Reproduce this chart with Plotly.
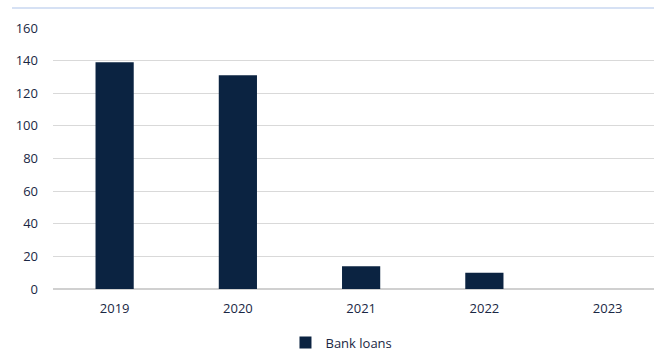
import plotly.graph_objects as go

years = ["2019", "2020", "2021", "2022", "2023"]
bank_loans = [139, 131, 14, 10, 0]
y_ticks = [0, 20, 40, 60, 80, 100, 120, 140, 160]

W, H = 654, 353
ml, mr, mt, mb = 53, 0, 28, 64
pw, ph = W - ml - mr, H - mt - mb

txt = "#1A2744"
fig = go.Figure()
fig.add_trace(go.Bar(
    x=years, y=bank_loans, name="Bank loans",
    marker=dict(color="#0B2341", line=dict(width=0)),
    width=0.31, showlegend=True,
))

fig.update_layout(
    width=W, height=H,
    margin=dict(l=ml, r=mr, t=mt, b=mb, autoexpand=False),
    paper_bgcolor="white", plot_bgcolor="white",
    font=dict(family="Open Sans, Liberation Sans, sans-serif", size=13, color=txt),
    showlegend=True,
    legend=dict(orientation="h", x=0.48, xanchor="center", y=-0.148, yanchor="top",
                font=dict(size=13, color=txt), itemwidth=30),
    xaxis=dict(type="category", range=[-0.5, -0.5 + pw / 123.25], showgrid=False,
               showline=False, ticks="", ticklabelstandoff=10, automargin=False,
               tickfont=dict(size=13, color=txt)),
    yaxis=dict(range=[0, 160], tickvals=y_ticks, showgrid=True, gridcolor="#D9D9D9",
               gridwidth=1, zeroline=True, zerolinecolor="#D0D0D0", zerolinewidth=2,
               showline=False, ticks="", ticklabelstandoff=14, automargin=False,
               tickfont=dict(size=13, color=txt)),
    shapes=[dict(type="line", xref="paper", yref="paper",
                 x0=(12 - ml) / pw, x1=1.0, y0=1 + 20 / ph, y1=1 + 20 / ph,
                 line=dict(color="#C9D7F0", width=1.5))],
    bargap=0.69,
)

fig.write_html("out.html")
